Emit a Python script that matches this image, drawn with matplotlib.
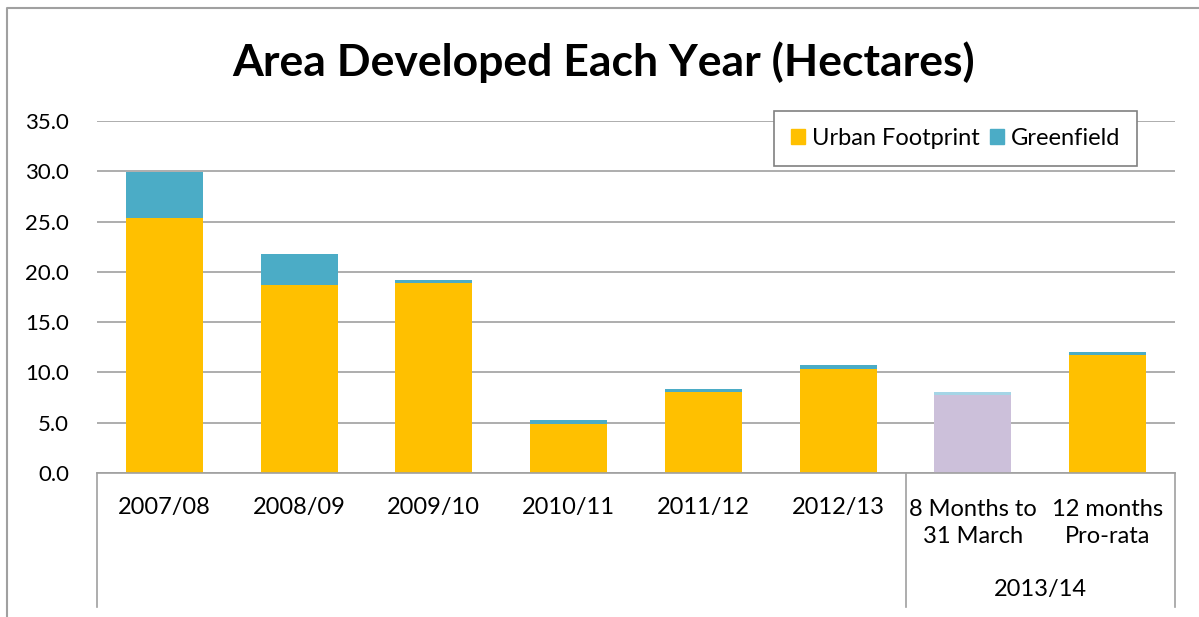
import numpy as np
import matplotlib.pyplot as plt
from matplotlib.lines import Line2D
from matplotlib.patches import Patch

plt.rcParams['font.family'] = ['Lato', 'DejaVu Sans']

# hectares per period
periods = ['2007/08', '2008/09', '2009/10', '2010/11', '2011/12', '2012/13',
           '8 Months to\n31 March', '12 months\nPro-rata']
urban = [25.4, 18.7, 18.9, 4.9, 8.1, 10.3, 7.75, 11.7]
greenfield = [4.5, 3.1, 0.3, 0.4, 0.3, 0.4, 0.3, 0.3]
group_label = '2013/14'
yticks = [0, 5, 10, 15, 20, 25, 30, 35]

urban_col = ['#FFC000'] * 6 + ['#CCC0DA', '#FFC000']
green_col = ['#4BACC6'] * 6 + ['#A5D5E6', '#4BACC6']
grid_col = '#A0A0A0'

fig = plt.figure(figsize=(11.99, 6.17), dpi=100)
ax = fig.add_axes([97 / 1199, 144 / 617, 1078 / 1199, 352 / 617])

x = np.arange(len(periods))
ax.bar(x, urban, width=0.57, color=urban_col, zorder=2)
ax.bar(x, greenfield, width=0.57, bottom=urban, color=green_col, zorder=2)

ax.set_xlim(-0.5, len(periods) - 0.5)
ax.set_ylim(0, 35)
ax.set_yticks(yticks)
ax.set_yticklabels([f'{v:.1f}' for v in yticks], fontsize=16)
ax.yaxis.grid(True, color=grid_col, lw=1.2, zorder=0)
ax.tick_params(axis='y', length=0, pad=20)
ax.set_xticks([])
for s in ['left', 'right', 'top']:
    ax.spines[s].set_visible(False)
ax.spines['bottom'].set_color(grid_col)
ax.spines['bottom'].set_linewidth(1.2)

# category labels below the axis
for xi, lab in zip(x, periods):
    ax.text(xi, -3.4 if '\n' not in lab else -5.0, lab, ha='center', va='center',
            fontsize=17, linespacing=1.35)
ax.text(6.5, -11.6, group_label, ha='center', va='center', fontsize=17)

# group separators
for xs in [-0.5, 5.5, 7.5]:
    ax.plot([xs, xs], [0, -13.3], color=grid_col, lw=1.2, clip_on=False)

handles = [Patch(color='#FFC000'), Patch(color='#4BACC6')]
leg = ax.legend(handles, ['Urban Footprint', 'Greenfield'], loc='upper right',
                bbox_to_anchor=(0.965, 1.028), borderaxespad=0, ncol=2, fontsize=17,
                fancybox=False, framealpha=1, edgecolor='#808080',
                handlelength=0.6, handleheight=0.6, handletextpad=0.3,
                columnspacing=0.4, borderpad=0.72)
leg.get_frame().set_linewidth(1.2)

fig.text(604 / 1199, 1 - 62 / 617, 'Area Developed Each Year (Hectares)',
         ha='center', va='center', fontsize=32, fontweight='bold')

# chart border
fig.add_artist(Line2D([7 / 1199, 7 / 1199, 1.0], [0, 1 - 8 / 617, 1 - 8 / 617],
                      color=grid_col, lw=1.5))

fig.savefig('out.png', dpi=100)
